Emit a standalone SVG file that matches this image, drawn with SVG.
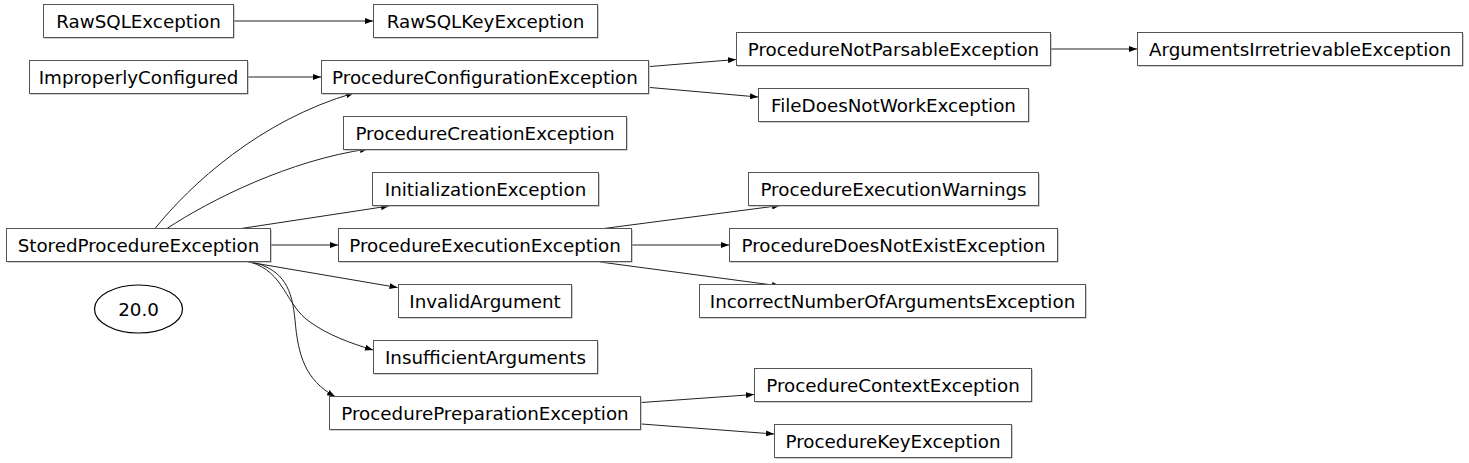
<svg xmlns="http://www.w3.org/2000/svg" width="1469" height="463" viewBox="0 0 1469 463">
<defs>
<marker id="ah" markerUnits="userSpaceOnUse" markerWidth="8" markerHeight="6" viewBox="0 0 8 6" refX="8" refY="3" orient="auto">
<path d="M0,0 L8,3 L0,6 z" fill="#000"/>
</marker>
<style>
.n rect.s{fill:#a0a0a0;stroke:none}
.n rect.b{fill:#fff;stroke:#555;stroke-width:1}
.n text{font-family:"DejaVu Sans",Verdana,sans-serif;font-size:18.3px;fill:#000;text-anchor:middle}
.e path{fill:none;stroke:#222;stroke-width:1;marker-end:url(#ah)}
</style>
</defs>
<rect width="1469" height="463" fill="#fff"/>
<g id="edges" class="e">
<path d="M233.5,21 L373,21"/>
<path d="M247.5,77 L321,77"/>
<path d="M650,66.5 L736,59.5"/>
<path d="M650,87.5 L758,97"/>
<path d="M1050,49 L1137,49"/>
<path d="M155,228.5 C190,185 260,120 354,93"/>
<path d="M167,228.5 C210,200 290,160 368,149"/>
<path d="M238,229 L389,206"/>
<path d="M270.5,245 L338,245"/>
<path d="M248,262 L397.5,287.5"/>
<path d="M250,262 C285,272 285,305 310,322 C328,335 350,343 373,350"/>
<path d="M252,262 C285,270 292,290 295,320 C298,355 305,380 335,396.5"/>
<path d="M600,229 L780,205.5"/>
<path d="M632,245 L729,245"/>
<path d="M600,262 L780,286"/>
<path d="M641.5,402.5 L754,394.5"/>
<path d="M641.5,424 L774,434"/>
</g>
<g id="n-RawSQLException" class="n"><rect class="s" x="44.5" y="5.5" width="190" height="33"/><rect class="b" x="43.5" y="4.5" width="190" height="33"/><text x="138.5" y="27.5">RawSQLException</text></g>
<g id="n-RawSQLKeyException" class="n"><rect class="s" x="374.5" y="5.5" width="224" height="33"/><rect class="b" x="373.5" y="4.5" width="224" height="33"/><text x="485.5" y="27.5">RawSQLKeyException</text></g>
<g id="n-ImproperlyConfigured" class="n"><rect class="s" x="30.5" y="61.5" width="218" height="33"/><rect class="b" x="29.5" y="60.5" width="218" height="33"/><text x="138.5" y="83.5">ImproperlyConfigured</text></g>
<g id="n-ProcedureConfigurationException" class="n"><rect class="s" x="322.5" y="61.5" width="327" height="33"/><rect class="b" x="321.5" y="60.5" width="327" height="33"/><text x="485" y="83.5">ProcedureConfigurationException</text></g>
<g id="n-ProcedureNotParsableException" class="n"><rect class="s" x="737.5" y="33.5" width="314" height="33"/><rect class="b" x="736.5" y="32.5" width="314" height="33"/><text x="893.5" y="55.5">ProcedureNotParsableException</text></g>
<g id="n-ArgumentsIrretrievableException" class="n"><rect class="s" x="1138.5" y="33.5" width="325" height="33"/><rect class="b" x="1137.5" y="32.5" width="325" height="33"/><text x="1300" y="55.5">ArgumentsIrretrievableException</text></g>
<g id="n-FileDoesNotWorkException" class="n"><rect class="s" x="759.5" y="89.5" width="270" height="33"/><rect class="b" x="758.5" y="88.5" width="270" height="33"/><text x="893.5" y="111.5">FileDoesNotWorkException</text></g>
<g id="n-ProcedureCreationException" class="n"><rect class="s" x="344.5" y="117.5" width="283" height="33"/><rect class="b" x="343.5" y="116.5" width="283" height="33"/><text x="485" y="139.5">ProcedureCreationException</text></g>
<g id="n-InitializationException" class="n"><rect class="s" x="373.5" y="173.5" width="226" height="33"/><rect class="b" x="372.5" y="172.5" width="226" height="33"/><text x="485.5" y="195.5">InitializationException</text></g>
<g id="n-ProcedureExecutionWarnings" class="n"><rect class="s" x="749.5" y="173.5" width="290" height="33"/><rect class="b" x="748.5" y="172.5" width="290" height="33"/><text x="893.5" y="195.5">ProcedureExecutionWarnings</text></g>
<g id="n-StoredProcedureException" class="n"><rect class="s" x="7.5" y="229.5" width="264" height="33"/><rect class="b" x="6.5" y="228.5" width="264" height="33"/><text x="138.5" y="251.5">StoredProcedureException</text></g>
<g id="n-ProcedureExecutionException" class="n"><rect class="s" x="339.5" y="229.5" width="293" height="33"/><rect class="b" x="338.5" y="228.5" width="293" height="33"/><text x="485" y="251.5">ProcedureExecutionException</text></g>
<g id="n-ProcedureDoesNotExistException" class="n"><rect class="s" x="730.5" y="229.5" width="328" height="33"/><rect class="b" x="729.5" y="228.5" width="328" height="33"/><text x="893.5" y="251.5">ProcedureDoesNotExistException</text></g>
<g id="n-InvalidArgument" class="n"><rect class="s" x="399.5" y="285.5" width="173" height="33"/><rect class="b" x="398.5" y="284.5" width="173" height="33"/><text x="485" y="307.5">InvalidArgument</text></g>
<g id="n-IncorrectNumberOfArgumentsException" class="n"><rect class="s" x="700.5" y="285.5" width="386" height="33"/><rect class="b" x="699.5" y="284.5" width="386" height="33"/><text x="892.5" y="307.5">IncorrectNumberOfArgumentsException</text></g>
<g id="n-20.0" class="n"><ellipse cx="138.5" cy="309" rx="44" ry="24" fill="#fff" stroke="#000" stroke-width="1.2"/><text x="138.5" y="315.5">20.0</text></g>
<g id="n-InsufficientArguments" class="n"><rect class="s" x="374.5" y="341.5" width="224" height="33"/><rect class="b" x="373.5" y="340.5" width="224" height="33"/><text x="485.5" y="363.5">InsufficientArguments</text></g>
<g id="n-ProcedureContextException" class="n"><rect class="s" x="755.5" y="369.5" width="277" height="33"/><rect class="b" x="754.5" y="368.5" width="277" height="33"/><text x="893" y="391.5">ProcedureContextException</text></g>
<g id="n-ProcedurePreparationException" class="n"><rect class="s" x="330.5" y="397.5" width="311" height="33"/><rect class="b" x="329.5" y="396.5" width="311" height="33"/><text x="485" y="419.5">ProcedurePreparationException</text></g>
<g id="n-ProcedureKeyException" class="n"><rect class="s" x="775.5" y="425.5" width="237" height="33"/><rect class="b" x="774.5" y="424.5" width="237" height="33"/><text x="893" y="447.5">ProcedureKeyException</text></g>
</svg>
